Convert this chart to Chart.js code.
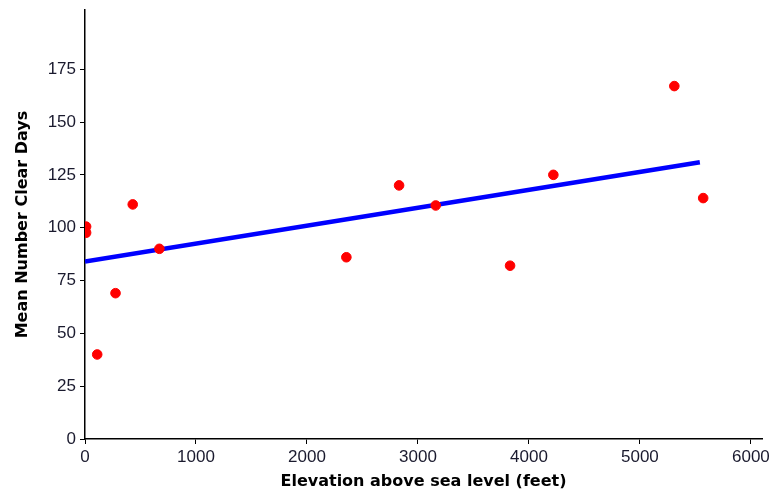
<!DOCTYPE html>
<html>
<head>
<meta charset="utf-8">
<script src="https://cdn.jsdelivr.net/npm/chart.js@4"></script>
<style>
html,body{margin:0;padding:0;background:#fff;}
#wrap{width:769px;height:491px;}
</style>
</head>
<body>
<div id="wrap"><canvas id="c" width="769" height="491"></canvas></div>
<script>
const elevation = [10, 10, 110, 275, 430, 670, 2355, 2830, 3160, 3830, 4220, 5310, 5570];
const clearDays = [100.5, 97.6, 40, 69, 111, 90, 86, 120, 110.5, 82, 125, 167, 114];
const trendX = [0, 5540];
const trendY = [84, 131];
const yTicks = [0, 25, 50, 75, 100, 125, 150, 175];
const xTicks = [0, 1000, 2000, 3000, 4000, 5000, 6000];

const pts = elevation.map((x, i) => ({x: x, y: clearDays[i]}));
const trend = trendX.map((x, i) => ({x: x, y: trendY[i]}));

new Chart(document.getElementById('c'), {
  type: 'scatter',
  data: {
    datasets: [
      {label: 'Trend', type: 'line', data: trend, borderColor: '#0000ff', borderWidth: 4.5, pointRadius: 0, fill: false, order: 2},
      {label: 'Cities', data: pts, backgroundColor: '#ff0000', borderColor: '#ff0000', pointRadius: 4.8, order: 1}
    ]
  },
  options: {
    responsive: false,
    animation: false,
    layout: {padding: {top: 10, right: 7, left: 0, bottom: 0}},
    plugins: {legend: {display: false}, tooltip: {enabled: false}},
    scales: {
      x: {
        type: 'linear', min: 0, max: 6100,
        afterBuildTicks: s => { s.ticks = xTicks.map(v => ({value: v})); },
        afterFit: s => { s.height = 52; s.paddingRight = 0; s.paddingLeft = 0; },
        grid: {drawOnChartArea: false, color: '#000', tickLength: 5, lineWidth: 1},
        border: {color: '#000', width: 1.5},
        ticks: {color: '#1a1a2e', font: {family: 'Liberation Sans', size: 17}, padding: 3, maxRotation: 0, callback: v => String(v)},
        title: {display: true, text: 'Elevation above sea level (feet)', color: '#000', font: {family: 'DejaVu Sans', weight: 'bold', size: 16}, padding: {top: 0, bottom: 0}}
      },
      y: {
        type: 'linear', min: 0, max: 203,
        afterBuildTicks: s => { s.ticks = yTicks.map(v => ({value: v})); },
        afterFit: s => { s.width = 85; s.paddingTop = 0; s.paddingBottom = 0; },
        grid: {drawOnChartArea: false, color: '#000', tickLength: 5, lineWidth: 1},
        border: {color: '#000', width: 1.5},
        ticks: {color: '#1a1a2e', font: {family: 'Liberation Sans', size: 17, lineHeight: 1}, padding: 4, callback: v => String(v)},
        title: {display: true, text: 'Mean Number Clear Days', color: '#000', font: {family: 'DejaVu Sans', weight: 'bold', size: 16}, padding: {top: 13, bottom: 0}}
      }
    }
  }
});
</script>
</body>
</html>
